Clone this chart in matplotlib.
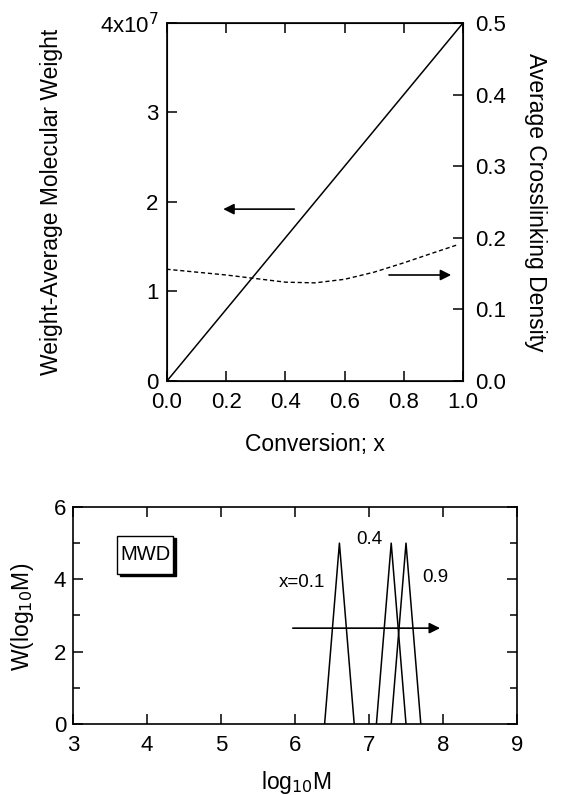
import matplotlib
matplotlib.use("Agg")
import matplotlib.pyplot as plt
from matplotlib.patches import Rectangle

plt.rcParams['font.family'] = ['Liberation Sans', 'DejaVu Sans']

# --- Top panel data ---
conv_line = [0.0, 1.0]
mw_line = [0.0, 4.0]          # in units of 1e7
conv_dash = [0.0, 0.0, 0.1, 0.2, 0.3, 0.4, 0.5, 0.6, 0.7, 0.8, 0.9, 0.98]
xlink_dash = [0.0, 0.156, 0.152, 0.148, 0.143, 0.138, 0.137, 0.142, 0.152, 0.165, 0.179, 0.190]

top_xticks = [0.0, 0.2, 0.4, 0.6, 0.8, 1.0]
top_xticklabels = ["0.0", "0.2", "0.4", "0.6", "0.8", "1.0"]
left_yticks = [0, 1, 2, 3, 4]
left_yticklabels = ["0", "1", "2", "3", "4x10$^7$"]
right_yticks = [0.0, 0.1, 0.2, 0.3, 0.4, 0.5]
right_yticklabels = ["0.0", "0.1", "0.2", "0.3", "0.4", "0.5"]

# --- Bottom panel data ---
mwd_labels = ["x=0.1", "0.4", "0.9"]
mwd_x = [[6.4, 6.6, 6.8], [7.1, 7.3, 7.5], [7.3, 7.5, 7.7]]
mwd_y = [[0, 5, 0], [0, 5, 0], [0, 5, 0]]
bot_xticks = [3, 4, 5, 6, 7, 8, 9]
bot_yticks = [0, 2, 4, 6]

W, H = 563, 795
fig = plt.figure(figsize=(W / 100, H / 100), dpi=100)
FS = 16
LFS = 16.5

# ---------- Top panel ----------
ax = fig.add_axes([0.2966, 0.5208, 0.5258, 0.4503])
ax.plot(conv_line, mw_line, color='black', lw=1.1)
ax.set_xlim(0, 1)
ax.set_ylim(0, 4)
ax.set_xticks(top_xticks)
ax.set_xticklabels(top_xticklabels)
ax.set_yticks(left_yticks)
ax.set_yticklabels(left_yticklabels)
ax.tick_params(direction='in', length=7, width=1.1, labelsize=FS, top=True)
ax.tick_params(axis='x', pad=8)
ax.tick_params(axis='y', pad=6)
for s in ax.spines.values():
    s.set_linewidth(1.2)
ax.annotate("", xy=(0.19, 1.92), xytext=(0.43, 1.92),
            arrowprops=dict(arrowstyle='-|>', color='black', lw=1.2,
                            mutation_scale=16, shrinkA=0, shrinkB=0))

ax2 = ax.twinx()
ax2.plot(conv_dash, xlink_dash, color='black', lw=1.0, linestyle=(0, (3, 2)))
ax2.set_ylim(0, 0.5)
ax2.set_yticks(right_yticks)
ax2.set_yticklabels(right_yticklabels)
ax2.tick_params(direction='in', length=7, width=1.1, labelsize=FS, pad=9)
ax2.annotate("", xy=(0.96, 0.148), xytext=(0.75, 0.148),
             arrowprops=dict(arrowstyle='-|>', color='black', lw=1.2,
                             mutation_scale=16, shrinkA=0, shrinkB=0))

fig.text(315 / W, 1 - 445 / H, "Conversion; x", fontsize=LFS, ha='center', va='center')
fig.text(52 / W, 1 - 202 / H, "Weight-Average Molecular Weight", fontsize=LFS,
         ha='center', va='center', rotation=90)
fig.text(535 / W, 1 - 202 / H, "Average Crosslinking Density", fontsize=LFS,
         ha='center', va='center', rotation=270)

# ---------- Bottom panel ----------
bx = fig.add_axes([0.1297, 0.0893, 0.7886, 0.2730])
for xs, ys in zip(mwd_x, mwd_y):
    bx.plot(xs, ys, color='black', lw=1.1)
bx.set_xlim(3, 9)
bx.set_ylim(0, 6)
bx.set_xticks(bot_xticks)
bx.set_yticks(bot_yticks)
bx.set_yticks([1, 3, 5], minor=True)
bx.tick_params(which='both', direction='in', labelsize=FS, top=True, right=True)
bx.tick_params(which='major', length=7, width=1.1)
bx.tick_params(axis='x', which='major', pad=8)
bx.tick_params(axis='y', which='major', pad=5)
bx.tick_params(which='minor', length=5, width=1.1)
for s in bx.spines.values():
    s.set_linewidth(1.2)

fig.text(296 / W, 1 - 782 / H, "log$_{10}$M", fontsize=LFS, ha='center', va='center')
fig.text(22 / W, 1 - 617 / H, "W(log$_{10}$M)", fontsize=LFS, ha='center', va='center',
         rotation=90)

bx.text(6.09, 3.9, mwd_labels[0], fontsize=13.5, ha='center', va='center')
bx.text(7.0, 5.09, mwd_labels[1], fontsize=13.5, ha='center', va='center')
bx.text(7.89, 4.06, mwd_labels[2], fontsize=13.5, ha='center', va='center')

bx.annotate("", xy=(7.96, 2.65), xytext=(5.97, 2.65),
            arrowprops=dict(arrowstyle='-|>', color='black', lw=1.2,
                            mutation_scale=16, shrinkA=0, shrinkB=0))

# MWD box with drop shadow
bx.add_patch(Rectangle((3.64, 4.1), 0.75, 1.05, facecolor='black', edgecolor='black',
                       zorder=3))
bx.add_patch(Rectangle((3.6, 4.15), 0.75, 1.05, facecolor='white', edgecolor='black',
                       lw=1.0, zorder=4))
bx.text(3.975, 4.675, "MWD", fontsize=14.5, ha='center', va='center', zorder=5)

fig.savefig("out.png", dpi=100)
